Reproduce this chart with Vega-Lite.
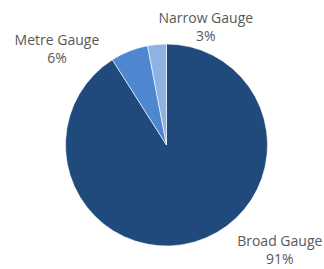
{
  "$schema": "https://vega.github.io/schema/vega-lite/v6.json",
  "width": 333,
  "height": 290,
  "autosize": "none",
  "padding": 0,
  "background": "white",
  "config": {"view": {"stroke": null}},
  "data": {
    "values": [
      {"gauge": "Broad Gauge", "share": 91, "rank": 1, "label": "Broad Gauge\n91%"},
      {"gauge": "Metre Gauge", "share": 6, "rank": 2, "label": "Metre Gauge\n6%"},
      {"gauge": "Narrow Gauge", "share": 3, "rank": 3, "label": "Narrow Gauge\n3%"}
    ]
  },
  "encoding": {
    "theta": {"field": "share", "type": "quantitative", "stack": true},
    "order": {"field": "rank", "type": "quantitative"}
  },
  "layer": [
    {
      "mark": {"type": "arc", "radius": 101, "stroke": "white", "strokeWidth": 0.6},
      "encoding": {
        "color": {
          "field": "gauge",
          "type": "nominal",
          "scale": {"domain": ["Broad Gauge", "Metre Gauge", "Narrow Gauge"], "range": ["#1F4A7B", "#4E86D0", "#8DB3E2"]},
          "legend": null
        }
      }
    },
    {
      "transform": [{"filter": "datum.gauge === 'Broad Gauge'"}],
      "mark": {"type": "text", "radius": 130, "dx": 77, "dy": -28, "lineBreak": "\n", "baseline": "middle", "align": "center", "font": "Open Sans", "fontSize": 14, "lineHeight": 18, "color": "#595959"},
      "encoding": {"text": {"field": "label"}}
    },
    {
      "transform": [{"filter": "datum.gauge === 'Metre Gauge'"}],
      "mark": {"type": "text", "radius": 125, "dx": -133, "dy": 19, "lineBreak": "\n", "baseline": "middle", "align": "center", "font": "Open Sans", "fontSize": 14, "lineHeight": 18, "color": "#595959"},
      "encoding": {"text": {"field": "label"}}
    },
    {
      "transform": [{"filter": "datum.gauge === 'Narrow Gauge'"}],
      "mark": {"type": "text", "radius": 120, "dx": 28, "dy": -7, "lineBreak": "\n", "baseline": "middle", "align": "center", "font": "Open Sans", "fontSize": 14, "lineHeight": 18, "color": "#595959"},
      "encoding": {"text": {"field": "label"}}
    }
  ]
}
